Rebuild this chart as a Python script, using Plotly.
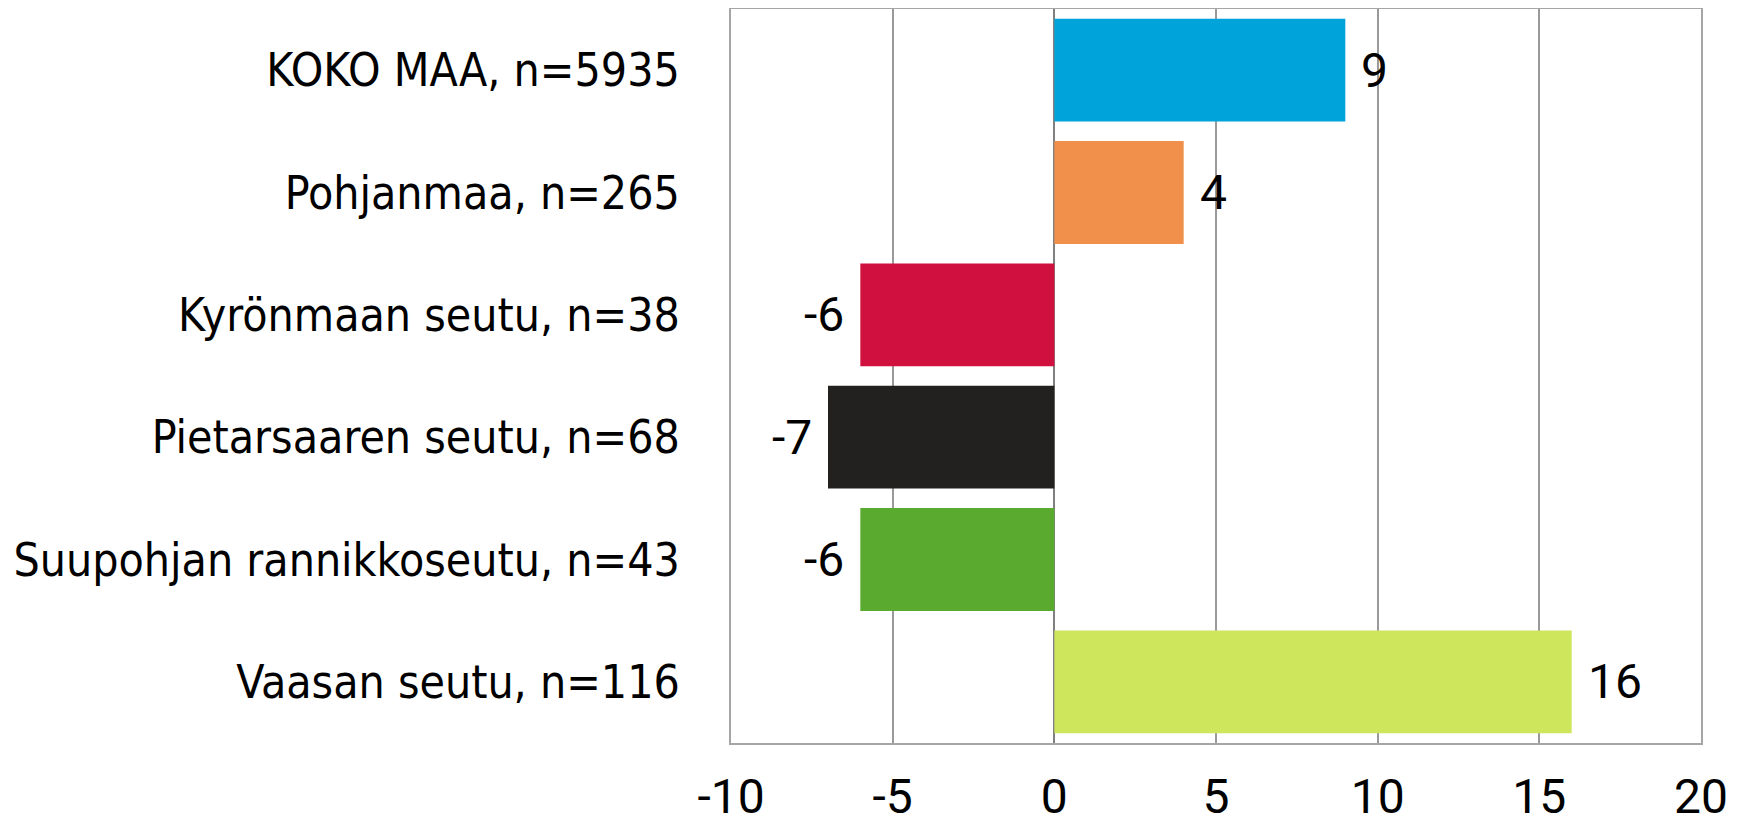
import plotly.graph_objects as go

categories = ["KOKO MAA, n=5935", "Pohjanmaa, n=265", "Kyrönmaan seutu, n=38",
              "Pietarsaaren seutu, n=68", "Suupohjan rannikkoseutu, n=43", "Vaasan seutu, n=116"]
values = [9, 4, -6, -7, -6, 16]
colors = ["#00A3DA", "#F0904A", "#D0103F", "#23211F", "#5AAA2F", "#CDE65B"]
x_ticks = [-10, -5, 0, 5, 10, 15, 20]

fig = go.Figure()
fig.add_trace(go.Bar(
    x=values, y=categories, orientation="h",
    marker=dict(color=colors, line=dict(width=0)),
    width=0.84, hoverinfo="skip",
))

for v, c in zip(values, categories):
    fig.add_annotation(
        x=v, y=c, text=str(v), showarrow=False,
        xanchor="left" if v >= 0 else "right",
        xshift=14 if v >= 0 else -14,
        font=dict(family="Roboto", size=48, color="#000000"),
    )

fig.update_layout(
    width=1724, height=806,
    margin=dict(l=723, r=31, t=1, b=71, autoexpand=False),
    paper_bgcolor="white", plot_bgcolor="white",
    showlegend=False,
    xaxis=dict(
        range=[-10, 20], tickvals=x_ticks, ticktext=[str(t) for t in x_ticks],
        showgrid=True, gridcolor="#9a9a9a", gridwidth=1.5,
        zeroline=True, zerolinecolor="#808080", zerolinewidth=2,
        showline=True, linecolor="#a6a6a6", linewidth=2, mirror=True,
        tickfont=dict(family="Roboto", size=48, color="#000000"),
        ticks="", ticklabelstandoff=10, automargin=False,
    ),
    yaxis=dict(
        categoryorder="array", categoryarray=categories, autorange="reversed",
        showgrid=False, zeroline=False,
        showline=True, linecolor="#a6a6a6", linewidth=2, mirror=True,
        tickfont=dict(family="Liberation Sans Narrow, DejaVu Sans Condensed", size=46, color="#000000"),
        ticks="", ticklabelstandoff=40, automargin=False,
    ),
)

fig.write_html("out.html")
